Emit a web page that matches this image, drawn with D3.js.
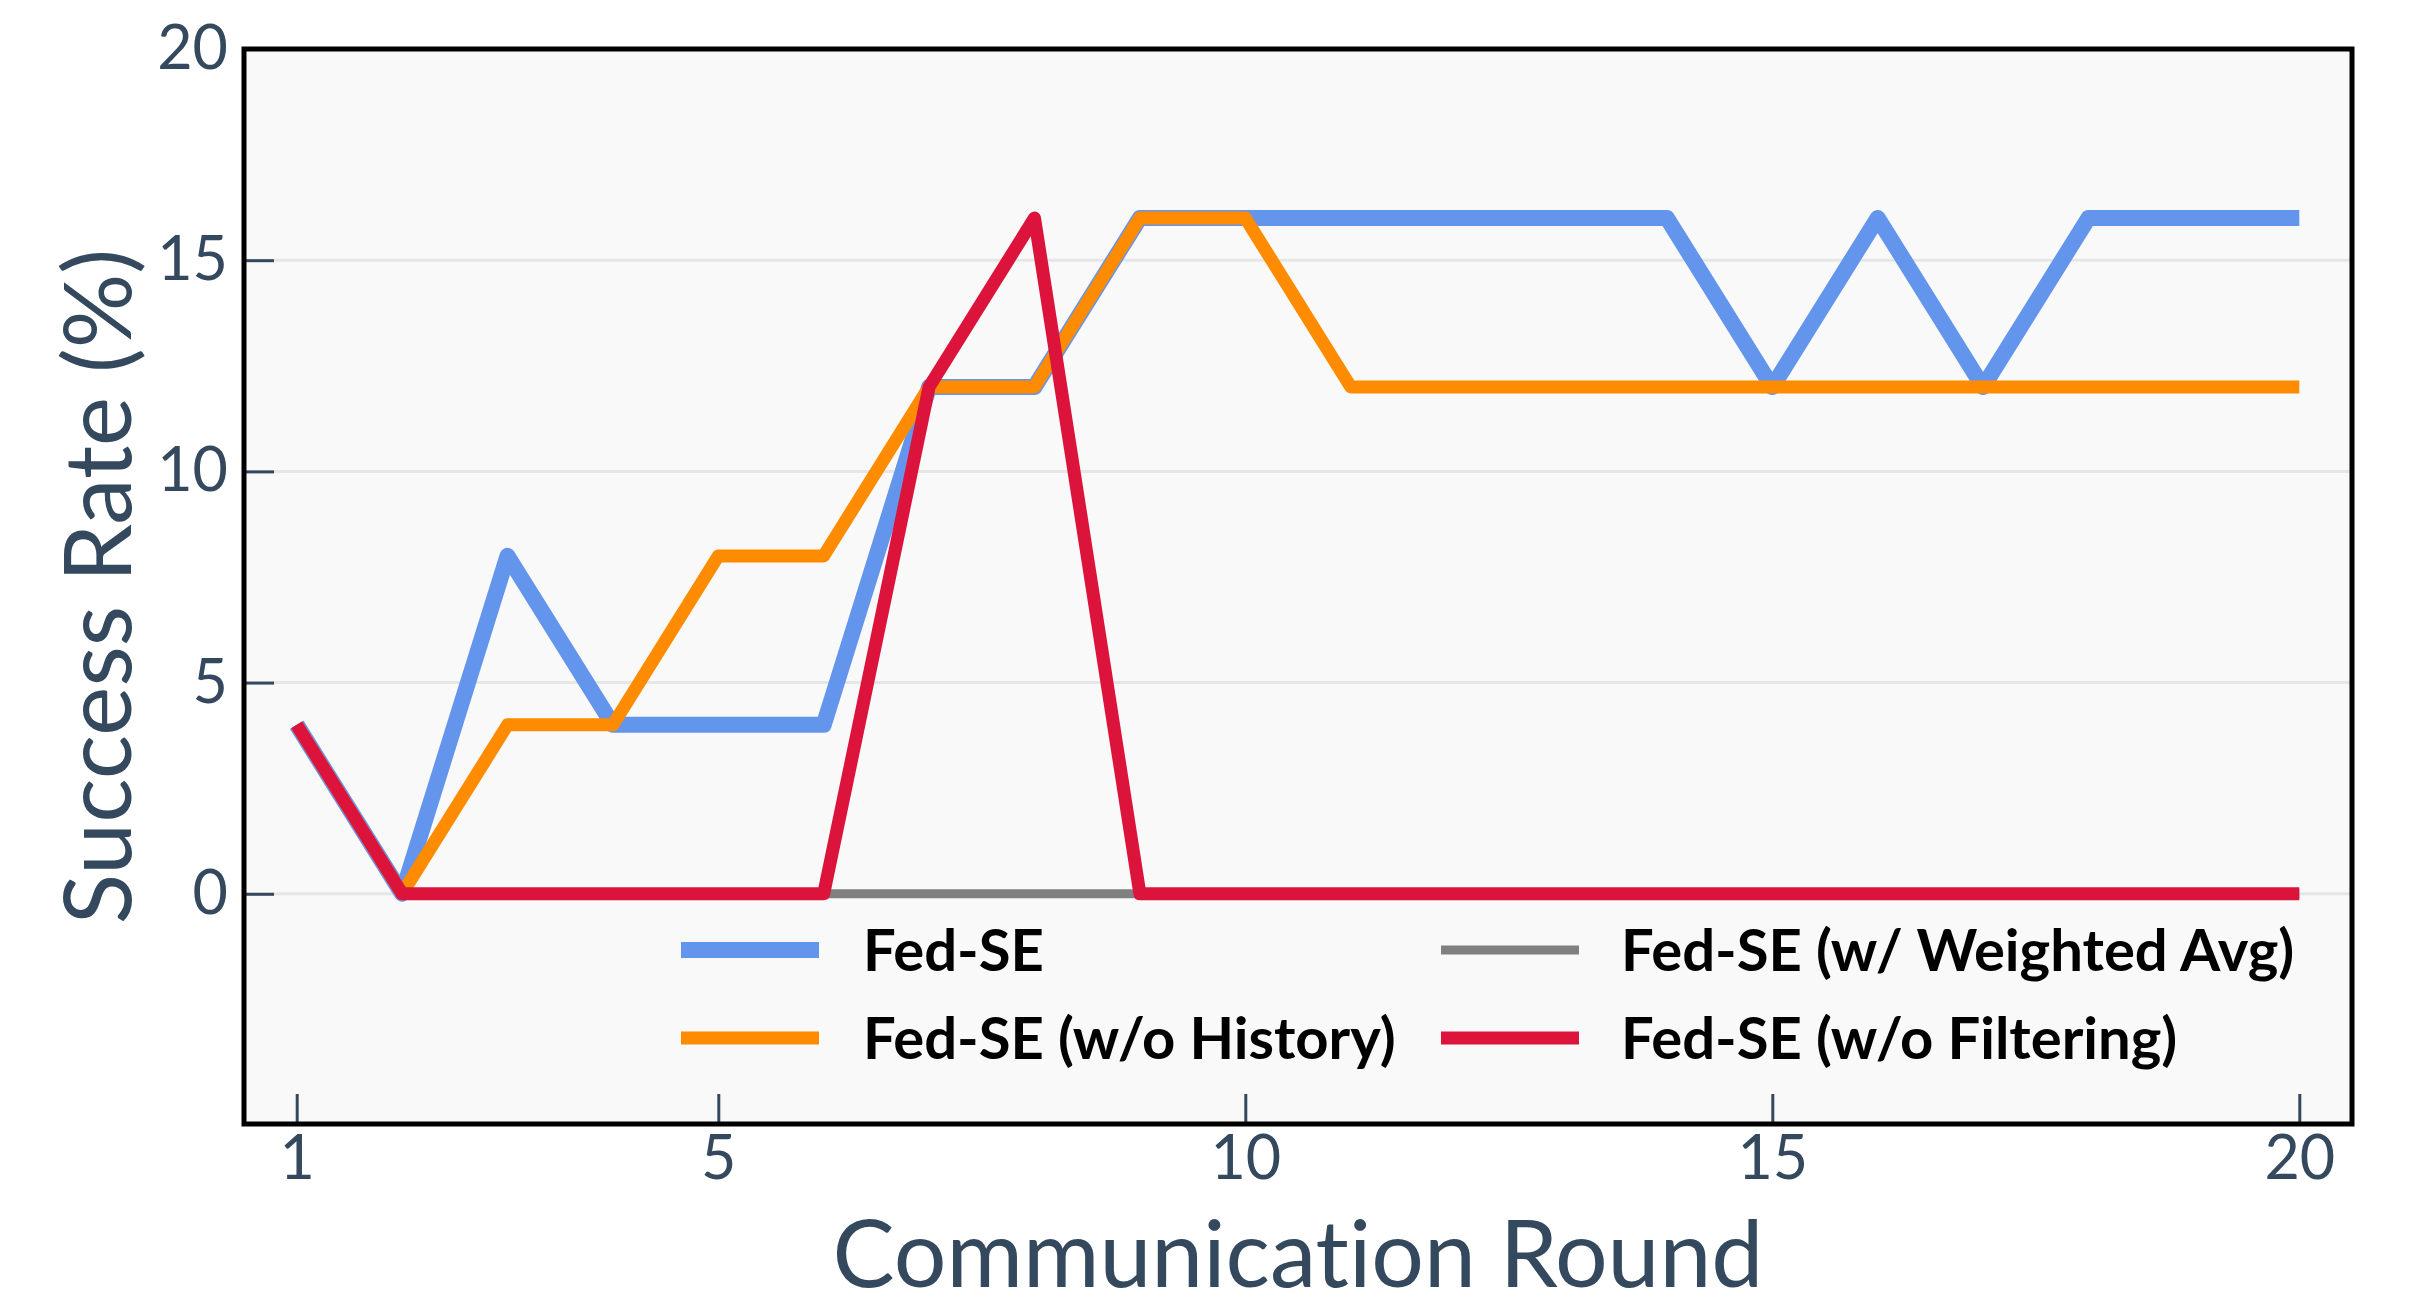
<!DOCTYPE html>
<html>
<head>
<meta charset="utf-8">
<script src="https://cdn.jsdelivr.net/npm/d3@7"></script>
<style>
  html, body { margin: 0; padding: 0; background: #ffffff; }
  svg { display: block; }
  text { font-variant-ligatures: none; font-feature-settings: "liga" 0, "clig" 0; }
</style>
</head>
<body>
<svg id="chart" width="2411" height="1306"></svg>
<script>
// ---- Data ----
const rounds = [1,2,3,4,5,6,7,8,9,10,11,12,13,14,15,16,17,18,19,20];
const fedSE          = [4,0,8,4,4,4,12,12,16,16,16,16,16,16,12,16,12,16,16,16];
const fedSEnoHistory = [4,0,4,4,8,8,12,12,16,16,12,12,12,12,12,12,12,12,12,12];
const fedSEweighted  = [4,0,0,0,0,0,0,0,0,0,0,0,0,0,0,0,0,0,0,0];
const fedSEnoFilter  = [4,0,0,0,0,0,12,16,0,0,0,0,0,0,0,0,0,0,0,0];
const seriesNames = ["Fed-SE", "Fed-SE (w/o History)", "Fed-SE (w/ Weighted Avg)", "Fed-SE (w/o Filtering)"];
const xTickValues = [1,5,10,15,20];
const yTickValues = [0,5,10,15,20];
const xTitle = "Communication Round";
const yTitle = "Success Rate (%)";

// ---- Styles ----
const colors = ["#6495ed", "#ff8c00", "#808080", "#dc143c"];
const widths = [16, 13, 9, 13];
const axisColor = "#34495e";

const svg = d3.select("#chart");
const L = 244, R = 2352, T = 49, B = 1124;

const x = d3.scaleLinear().domain([0.5, 20.5]).range([L, R]);
const y = d3.scaleLinear().domain([-5.45, 20]).range([B, T]);

// plot background
svg.append("rect").attr("x", L).attr("y", T).attr("width", R - L).attr("height", B - T)
  .attr("fill", "#f9f9f9");

// gridlines
svg.append("g").selectAll("line").data(yTickValues).join("line")
  .attr("x1", L).attr("x2", R)
  .attr("y1", d => y(d)).attr("y2", d => y(d))
  .attr("stroke", "#e6e6e6").attr("stroke-width", 3);

// axes
const yAxis = d3.axisLeft(y).tickValues(yTickValues).tickSizeInner(-30).tickSizeOuter(0).tickPadding(16);
const gy = svg.append("g").attr("transform", `translate(${L},0)`).call(yAxis);
const xAxis = d3.axisBottom(x).tickValues(xTickValues).tickSizeInner(-30).tickSizeOuter(0).tickPadding(12);
const gx = svg.append("g").attr("transform", `translate(0,${B})`).call(xAxis);
[gx, gy].forEach(g => {
  g.select(".domain").remove();
  g.selectAll(".tick line").attr("stroke", axisColor).attr("stroke-width", 3);
  g.selectAll(".tick text").attr("fill", axisColor)
    .style("font-family", "Lato, 'Open Sans', sans-serif").style("font-size", "61px");
});

// lines
const allSeries = [fedSE, fedSEnoHistory, fedSEweighted, fedSEnoFilter];
const line = d3.line().x(d => x(d[0])).y(d => y(d[1]));
allSeries.forEach((vals, i) => {
  svg.append("path")
    .datum(rounds.map((r, j) => [r, vals[j]]))
    .attr("d", line)
    .attr("fill", "none")
    .attr("stroke", colors[i])
    .attr("stroke-width", widths[i])
    .attr("stroke-linejoin", "round")
    .attr("stroke-linecap", "butt");
});

// frame
svg.append("rect").attr("x", L).attr("y", T).attr("width", R - L).attr("height", B - T)
  .attr("fill", "none").attr("stroke", "#000").attr("stroke-width", 5);

// legend
const legendPos = [
  {lx: 681, tx: 863, y: 950},
  {lx: 681, tx: 863, y: 1038},
  {lx: 1441, tx: 1621, y: 950},
  {lx: 1441, tx: 1621, y: 1038}
];
const lg = svg.append("g");
seriesNames.forEach((name, i) => {
  const p = legendPos[i];
  lg.append("line").attr("x1", p.lx).attr("x2", p.lx + 138).attr("y1", p.y).attr("y2", p.y)
    .attr("stroke", colors[i]).attr("stroke-width", widths[i]);
  lg.append("text").attr("x", p.tx).attr("y", p.y).attr("dy", "0.36em")
    .attr("fill", "#000")
    .style("font-family", "Lato, 'Open Sans', sans-serif")
    .style("font-weight", "bold").style("font-size", "58px")
    .text(name);
});

// axis titles
svg.append("text").attr("x", (L + R) / 2).attr("y", 1287)
  .attr("text-anchor", "middle").attr("fill", axisColor)
  .style("font-family", "Lato, 'Open Sans', sans-serif").style("font-size", "93px")
  .text(xTitle);
svg.append("text")
  .attr("transform", `translate(131,${(T + B) / 2}) rotate(-90)`)
  .attr("text-anchor", "middle").attr("fill", axisColor)
  .style("font-family", "Lato, 'Open Sans', sans-serif").style("font-size", "93px")
  .text(yTitle);
</script>
</body>
</html>
